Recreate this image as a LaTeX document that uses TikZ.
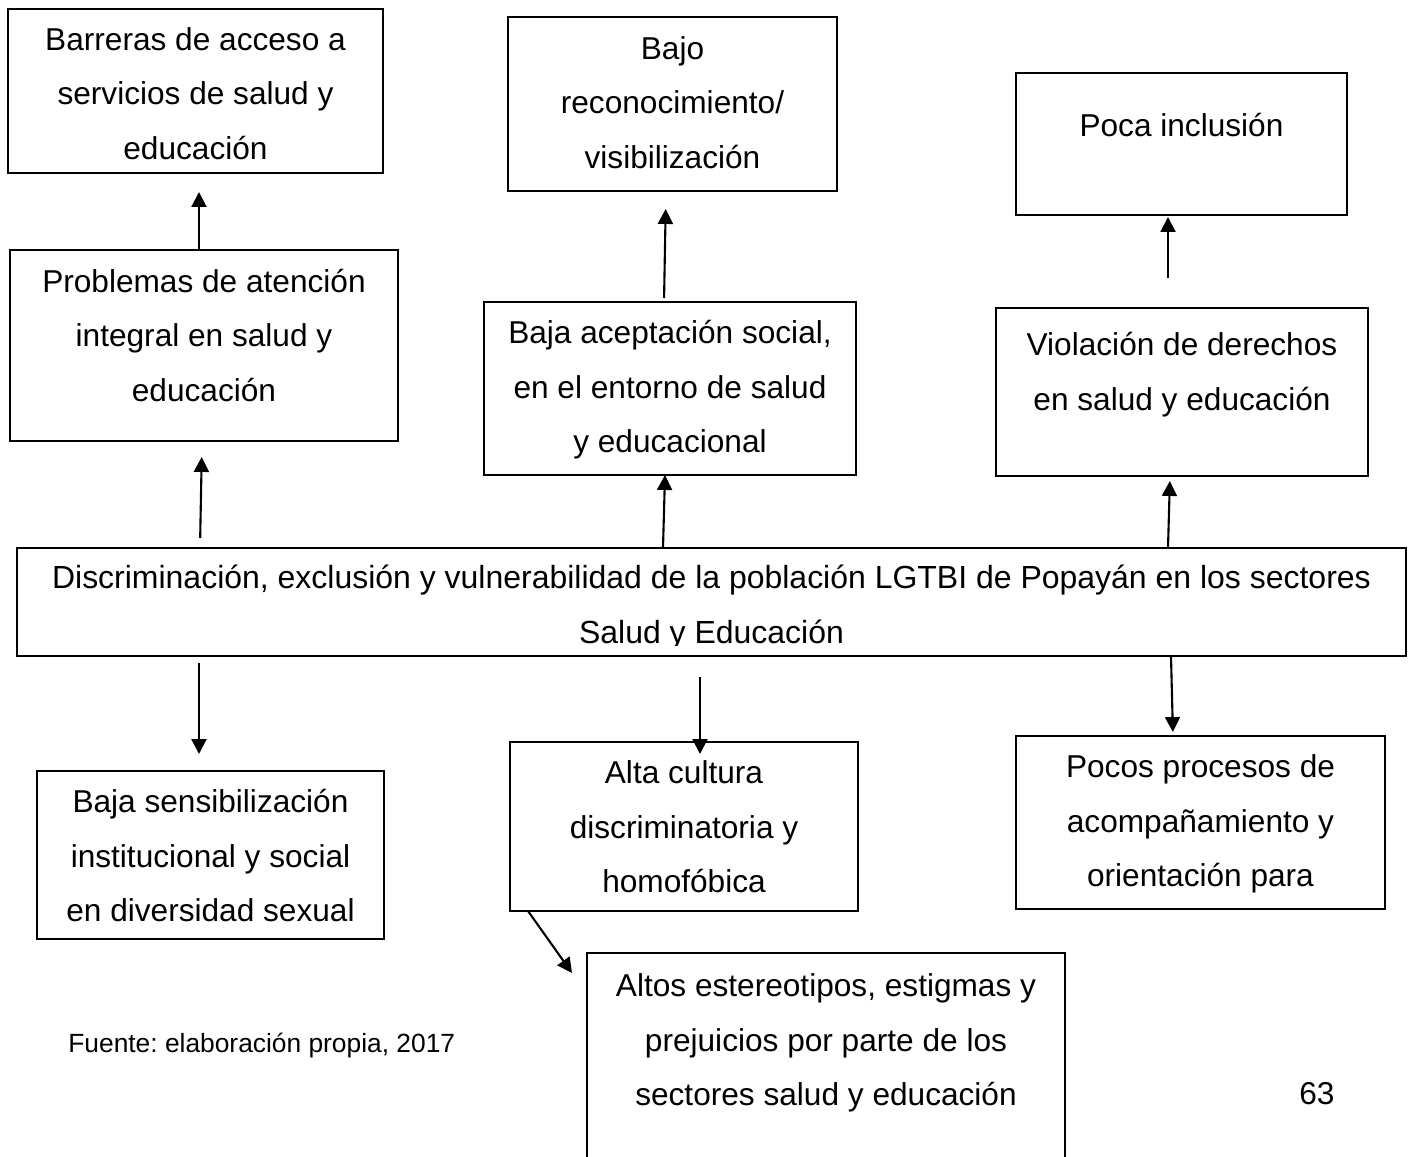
\documentclass[tikz,border=0pt]{standalone}
\usepackage{fontspec}
\setmainfont{Liberation Sans}
\usepackage{trimclip}
\usetikzlibrary{arrows.meta}
\frenchspacing

\newdimen\px \px=0.02cm
% box text: width, height, first baseline offset, text
\newcommand{\cajatxt}[4]{\parbox[c][#2\px][t]{#1\px}{\centering\rule{0pt}{#3\px}#4}}

\begin{document}
\begin{tikzpicture}[x=0.02cm,y=-0.02cm,
  caja/.style={draw,line width=1.2pt,inner sep=0pt,outer sep=0pt,font=\fontsize{18}{31.3}\selectfont},
  flecha/.style={line width=1.2pt,-{Triangle[length=8.5pt,width=8.5pt]}}]
\useasboundingbox (0,0) rectangle (1411,1157);
\clip (0,0) rectangle (1411,1157);
% Effects (top)
\node[caja] (p1) at (195.5,91) {\cajatxt{375}{164}{41}{Barreras de acceso a\\servicios de salud y\\educación}};
\node[caja] (p2) at (672.5,104) {\cajatxt{329}{174}{42}{Bajo\\reconocimiento/\\visibilización}};
\node[caja] (p3) at (1181.5,144) {\cajatxt{331}{142}{63}{Poca inclusión}};
\node[caja] (p4) at (204,345.5) {\cajatxt{388}{191}{42}{Problemas de atención\\integral en salud y\\educación}};
\node[caja] (p5) at (670,388.5) {\cajatxt{372}{173}{41}{Baja aceptación social,\\en el entorno de salud\\y educacional}};
\node[caja] (p6) at (1182,392) {\cajatxt{372}{168}{47}{Violación de derechos\\en salud y educación}};
% Central problem
\node[caja,font=\fontsize{18.2}{31.3}\selectfont] (c) at (711.5,602) {\cajatxt{1389}{108}{40}{Discriminación, exclusión y vulnerabilidad de la población LGTBI de Popayán en los sectores\\\clipbox*{0pt -1.2pt {\width} {\height}}{Salud y Educación}}};
% Causes (bottom)
\node[caja] (p8) at (210.5,855) {\cajatxt{347}{168}{41}{Baja sensibilización\\institucional y social\\en diversidad sexual}};
\node[caja] (p9) at (684,826.5) {\cajatxt{348}{169}{41}{Alta cultura\\discriminatoria y\\homofóbica}};
\node[caja] (p10) at (1200.5,822.5) {\cajatxt{369}{173}{41}{Pocos procesos de\\acompañamiento y\\orientación para}};
\node[caja] (p11) at (826,1073) {\cajatxt{478}{240}{43}{Altos estereotipos, estigmas y\\prejuicios por parte de los\\sectores salud y educación}};
% Source and page number
\node[anchor=base west,inner sep=0pt,font=\fontsize{15}{18}\selectfont] (fuente) at (68,1052) {Fuente: elaboración propia, 2017};
\node[anchor=base west,inner sep=0pt,font=\fontsize{18}{31.3}\selectfont] (pagina) at (1299,1104) {63};
% Arrows up
\draw[flecha,shorten >=19\px] (p4.north -| 199,0) -- (p1.south -| 199,0);
\draw[flecha,shorten <=10\px,shorten >=16\px] (c.north -| 200,0) -- (p4.south -| 202,0);
\draw[flecha,shorten <=4\px,shorten >=18\px] (p5.north -| 664,0) -- (p2.south -| 666,0);
\draw[flecha] (c.north -| 663,0) -- (p5.south -| 665,0);
\draw[flecha,shorten <=30\px,shorten >=2\px] (p6.north -| 1168,0) -- (p3.south -| 1168,0);
\draw[flecha,shorten >=5\px] (c.north -| 1168,0) -- (p6.south -| 1170,0);
% Arrows down
\draw[flecha,shorten <=7\px,shorten >=17\px] (c.south -| 199,0) -- (p8.north -| 199,0);
\draw[flecha,shorten <=21\px,shorten >=-12\px] (c.south -| 700,0) -- (p9.north -| 700,0);
\draw[flecha,shorten >=4\px] (c.south -| 1171,0) -- (p10.north -| 1173,0);
\draw[flecha] (p9.south -| 528,0) -- ([shift={(-15,20)}]p11.north west);
\end{tikzpicture}
\end{document}
